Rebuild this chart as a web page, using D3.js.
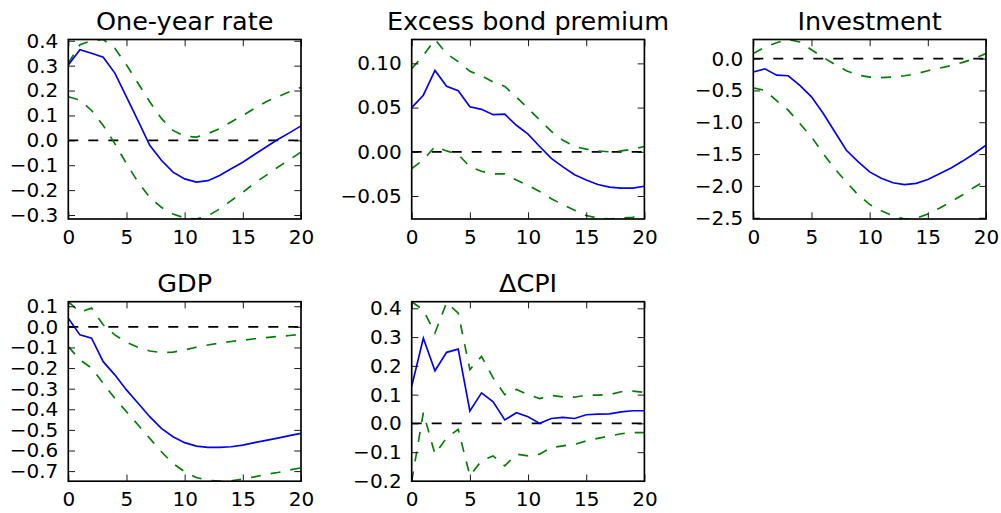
<!DOCTYPE html>
<html><head><meta charset="utf-8">
<script src="https://cdn.jsdelivr.net/npm/d3@7"></script>
<style>
body{margin:0;background:#fff;}
svg{display:block;}
text{font-family:"DejaVu Sans",sans-serif;fill:#000;}
</style>
</head><body>
<svg id="chart" width="1001" height="513"></svg>
<script>
// ---------- data ----------
const horizon = [0,1,2,3,4,5,6,7,8,9,10,11,12,13,14,15,16,17,18,19,20];
const titles = ["One-year rate","Excess bond premium","Investment","GDP","\u0394CPI"];

const rateMid = [0.303,0.364,0.350,0.334,0.270,0.175,0.078,-0.020,-0.080,-0.128,-0.155,-0.168,-0.162,-0.141,-0.114,-0.088,-0.057,-0.027,0.003,0.030,0.058];
const rateHi  = [0.310,0.384,0.400,0.405,0.370,0.303,0.229,0.155,0.088,0.040,0.016,0.013,0.027,0.047,0.074,0.100,0.128,0.155,0.175,0.195,0.213];
const rateLo  = [0.175,0.162,0.120,0.060,-0.013,-0.094,-0.168,-0.229,-0.269,-0.296,-0.312,-0.316,-0.303,-0.276,-0.242,-0.209,-0.172,-0.141,-0.108,-0.078,-0.047];

const ebpMid = [0.050,0.064,0.092,0.074,0.069,0.051,0.048,0.042,0.0425,0.030,0.020,0.006,-0.0075,-0.017,-0.026,-0.032,-0.037,-0.040,-0.041,-0.041,-0.039];
const ebpHi  = [0.094,0.109,0.127,0.111,0.102,0.091,0.086,0.079,0.074,0.062,0.049,0.036,0.023,0.013,0.006,0.003,0.001,0.000,0.001,0.003,0.006];
const ebpLo  = [-0.019,-0.009,0.006,0.001,-0.003,-0.017,-0.022,-0.025,-0.025,-0.032,-0.038,-0.045,-0.053,-0.060,-0.066,-0.072,-0.075,-0.076,-0.075,-0.074,-0.071];

const invMid = [-0.21,-0.16,-0.26,-0.27,-0.42,-0.60,-0.86,-1.15,-1.44,-1.62,-1.78,-1.88,-1.95,-1.98,-1.96,-1.90,-1.81,-1.72,-1.61,-1.49,-1.36];
const invHi  = [0.08,0.18,0.25,0.30,0.26,0.14,0.02,-0.09,-0.19,-0.26,-0.29,-0.30,-0.29,-0.27,-0.24,-0.19,-0.15,-0.11,-0.06,0.00,0.08];
const invLo  = [-0.46,-0.50,-0.66,-0.81,-1.02,-1.23,-1.49,-1.73,-1.94,-2.14,-2.29,-2.39,-2.47,-2.52,-2.51,-2.44,-2.35,-2.25,-2.14,-2.02,-1.91];

const gdpMid = [0.042,-0.039,-0.055,-0.169,-0.233,-0.306,-0.371,-0.436,-0.493,-0.533,-0.562,-0.579,-0.585,-0.585,-0.582,-0.574,-0.562,-0.551,-0.540,-0.528,-0.517];
const gdpHi  = [0.122,0.071,0.091,0.010,-0.039,-0.075,-0.100,-0.117,-0.125,-0.123,-0.112,-0.099,-0.088,-0.079,-0.071,-0.065,-0.058,-0.052,-0.047,-0.042,-0.036];
const gdpLo  = [-0.096,-0.160,-0.200,-0.274,-0.347,-0.412,-0.476,-0.541,-0.606,-0.663,-0.703,-0.731,-0.744,-0.749,-0.747,-0.739,-0.728,-0.716,-0.707,-0.695,-0.684];

const cpiMid = [0.129,0.296,0.183,0.247,0.258,0.043,0.106,0.075,0.012,0.037,0.023,0.000,0.017,0.021,0.017,0.030,0.032,0.033,0.040,0.044,0.044];
const cpiHi  = [0.423,0.394,0.314,0.420,0.383,0.187,0.233,0.158,0.100,0.118,0.100,0.086,0.097,0.092,0.091,0.098,0.098,0.100,0.110,0.112,0.108];
const cpiLo  = [-0.201,0.037,-0.107,-0.050,-0.021,-0.182,-0.130,-0.113,-0.148,-0.107,-0.113,-0.107,-0.084,-0.078,-0.073,-0.061,-0.052,-0.044,-0.036,-0.032,-0.032];

const xTicks = [0,5,10,15,20];
const rateTicks = [-0.3,-0.2,-0.1,0.0,0.1,0.2,0.3,0.4];
const ebpTicks  = [-0.05,0.00,0.05,0.10];
const invTicks  = [-2.5,-2.0,-1.5,-1.0,-0.5,0.0];
const gdpTicks  = [-0.7,-0.6,-0.5,-0.4,-0.3,-0.2,-0.1,0.0,0.1];
const cpiTicks  = [-0.2,-0.1,0.0,0.1,0.2,0.3,0.4];
const tickDecimals = [1,2,1,1,1];

const panels = [
  {mid: rateMid, hi: rateHi, lo: rateLo, ticks: rateTicks},
  {mid: ebpMid,  hi: ebpHi,  lo: ebpLo,  ticks: ebpTicks},
  {mid: invMid,  hi: invHi,  lo: invLo,  ticks: invTicks},
  {mid: gdpMid,  hi: gdpHi,  lo: gdpLo,  ticks: gdpTicks},
  {mid: cpiMid,  hi: cpiHi,  lo: cpiLo,  ticks: cpiTicks}
];

// ---------- layout ----------
const colLeft = [68.3, 411.7, 753.3];
const rowTop = [39.5, 301.7];
const W = 232.7, H = 179.5;

const svg = d3.select("#chart");

panels.forEach((p, i) => {
  const col = i % 3, row = Math.floor(i / 3);
  const x0 = colLeft[col], y0 = rowTop[row];
  const g = svg.append("g").attr("transform", `translate(${x0},${y0})`);

  const x = d3.scaleLinear().domain([horizon[0], horizon[horizon.length-1]]).range([0, W]);
  const yMin = d3.min([...p.lo, ...p.mid, ...p.hi]);
  const yMax = d3.max([...p.lo, ...p.mid, ...p.hi]);
  const y = d3.scaleLinear().domain([yMin, yMax]).range([H, 0]);

  const clipId = "clip" + i;
  g.append("clipPath").attr("id", clipId).append("rect")
    .attr("x", 0).attr("y", 0).attr("width", W).attr("height", H);

  const plot = g.append("g").attr("clip-path", `url(#${clipId})`);
  const line = d3.line().x((d, k) => x(horizon[k])).y(d => y(d));

  // zero line
  plot.append("path")
    .datum([0, 0])
    .attr("d", d3.line().x((d, k) => x(k === 0 ? horizon[0] : horizon[horizon.length-1])).y(d => y(d)))
    .attr("fill", "none").attr("stroke", "#000").attr("stroke-width", 1.67)
    .attr("stroke-dasharray", "10,10");

  [p.hi, p.lo].forEach(arr => {
    plot.append("path").datum(arr).attr("d", line)
      .attr("fill", "none").attr("stroke", "#008000").attr("stroke-width", 1.67)
      .attr("stroke-dasharray", "10,10");
  });
  plot.append("path").datum(p.mid).attr("d", line)
    .attr("fill", "none").attr("stroke", "#0000ff").attr("stroke-width", 1.67);

  const tl = 6.7;
  const fmt = d3.format("." + tickDecimals[i] + "f");

  const xAxisB = d3.axisBottom(x).tickValues(xTicks).tickSizeInner(-tl).tickSizeOuter(0).tickPadding(10.5).tickFormat(d3.format("d"));
  const xAxisT = d3.axisTop(x).tickValues(xTicks).tickSizeInner(-tl).tickSizeOuter(0).tickFormat("");
  const yAxisL = d3.axisLeft(y).tickValues(p.ticks).tickSizeInner(-tl).tickSizeOuter(0).tickPadding(10).tickFormat(fmt);
  const yAxisR = d3.axisRight(y).tickValues(p.ticks).tickSizeInner(-tl).tickSizeOuter(0).tickFormat("");

  const styleAxis = sel => {
    sel.select(".domain").remove();
    sel.selectAll(".tick line").attr("stroke", "#000").attr("stroke-width", 0.9);
    sel.selectAll("text").attr("font-size", 20).attr("font-family", "DejaVu Sans").attr("fill", "#000");
  };
  g.append("g").attr("transform", `translate(0,${H})`).call(xAxisB).call(styleAxis);
  g.append("g").call(xAxisT).call(styleAxis);
  g.append("g").call(yAxisL).call(styleAxis);
  g.append("g").attr("transform", `translate(${W},0)`).call(yAxisR).call(styleAxis);

  // frame
  g.append("rect").attr("x", 0).attr("y", 0).attr("width", W).attr("height", H)
    .attr("fill", "none").attr("stroke", "#000").attr("stroke-width", 1.67);

  // title
  g.append("text").attr("x", W / 2).attr("y", -10)
    .attr("text-anchor", "middle").attr("font-size", 25.5).text(titles[i]);
});
</script>
</body></html>
